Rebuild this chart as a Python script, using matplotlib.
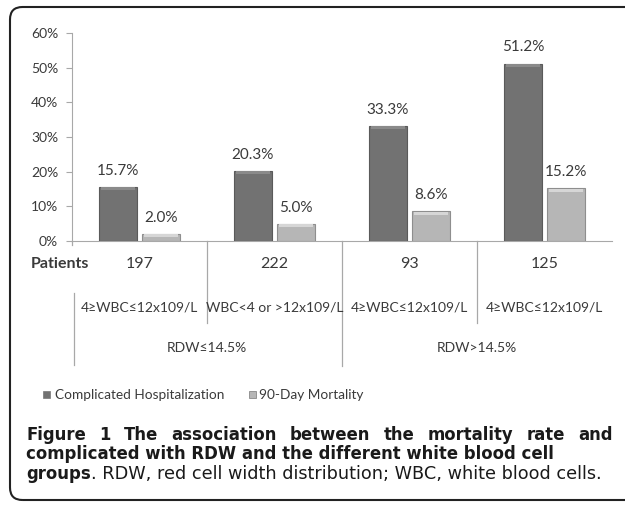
import matplotlib
matplotlib.use("Agg")
import matplotlib.pyplot as plt
from matplotlib.patches import FancyBboxPatch
import numpy as np

groups = ["4≥WBC≤12x109/L", "WBC<4 or >12x109/L", "4≥WBC≤12x109/L", "4≥WBC≤12x109/L"]
patients = ["197", "222", "93", "125"]
rdw_labels = ["RDW≤14.5%", "RDW>14.5%"]
complicated = [15.7, 20.3, 33.3, 51.2]
mortality = [2.0, 5.0, 8.6, 15.2]
series_names = ["Complicated Hospitalization", "90-Day Mortality"]
yticks = [0, 10, 20, 30, 40, 50, 60]
caption1 = "Figure 1 The association between the mortality rate and"
caption2 = "complicated with RDW and the different white blood cell"
caption3b = "groups"
caption3r = ". RDW, red cell width distribution; WBC, white blood cells."

W, H = 625, 507
fig = plt.figure(figsize=(W / 100, H / 100), dpi=100)
fig.patch.set_facecolor("white")

FONT = ["Lato", "DejaVu Sans"]
TXT = "#3a3a3a"
AX = "#a8a8a8"

def fx(px):
    return px / W

def fy(py):
    return 1 - py / H

ax_l, ax_r, ax_t, ax_b = 72, 612, 33, 241
ax = fig.add_axes([fx(ax_l), fy(ax_b), fx(ax_r - ax_l), (ax_b - ax_t) / H])
ax.set_xlim(-0.5, 3.5)
ax.set_ylim(0, 60)

x = np.arange(len(groups))
bw = 0.28
off = 0.16
dark = ax.bar(x - off, complicated, bw, color="#727272", edgecolor="#5a5a5a", linewidth=0.8, zorder=3)
light = ax.bar(x + off, mortality, bw, color="#b6b6b6", edgecolor="#8e8e8e", linewidth=0.8, zorder=3)

for bars, hl in ((dark, "#8a8a8a"), (light, "#d6d6d6")):
    for b in bars:
        h = b.get_height()
        ax.bar(b.get_x() + b.get_width() / 2, min(0.9, h * 0.35), b.get_width() * 0.9,
               bottom=h - min(1.0, h * 0.4), color=hl, linewidth=0, zorder=4)

for xs, vals in ((x - off, complicated), (x + off, mortality)):
    for xi, v in zip(xs, vals):
        ax.text(xi, v + 2.6, f"{v:.1f}%", ha="center", va="bottom", fontsize=11, color=TXT, family=FONT)

for s in ["top", "right"]:
    ax.spines[s].set_visible(False)
ax.spines["left"].set_color(AX)
ax.spines["bottom"].set_color(AX)
ax.set_yticks(yticks)
ax.set_yticklabels([f"{t}%" for t in yticks], fontsize=10, color=TXT, family=FONT)
ax.tick_params(axis="y", length=4, color=AX, pad=6)
ax.set_xticks([])

def ay(py):
    return (ax_b - py) / (ax_b - ax_t)

tr = ax.get_xaxis_transform()
for xd in (0.5, 2.5):
    ax.plot([xd, xd], [0, ay(323)], transform=tr, color=AX, lw=0.9, clip_on=False)
ax.plot([1.5, 1.5], [0, ay(366)], transform=tr, color=AX, lw=0.9, clip_on=False)
ax.plot([-0.485, -0.485], [ay(293), ay(365)], transform=tr, color=AX, lw=0.9, clip_on=False)
ax.plot([-0.5, -0.5], [0, ay(245)], transform=tr, color=AX, lw=0.9, clip_on=False)

fig.text(fx(89), fy(264), "Patients", ha="right", va="center", fontsize=11.5,
         fontweight="bold", color=TXT, family=FONT)
for xi, p in zip(x, patients):
    ax.text(xi, ay(264), p, transform=tr, ha="center", va="center", fontsize=11.5, color=TXT, family=FONT)
for xi, g in zip(x, groups):
    ax.text(xi, ay(307), g, transform=tr, ha="center", va="center", fontsize=10, color=TXT, family=FONT)
for xi, r in zip((0.5, 2.5), rdw_labels):
    ax.text(xi, ay(348), r, transform=tr, ha="center", va="center", fontsize=10, color=TXT, family=FONT)

for (sx, tx, col, name) in ((43, 55, "#727272", series_names[0]), (249, 259, "#b6b6b6", series_names[1])):
    fig.patches.append(FancyBboxPatch((fx(sx), fy(398)), fx(7), 7 / H, boxstyle="square,pad=0",
                                      facecolor=col, edgecolor="#777777", lw=0.5,
                                      transform=fig.transFigure))
    fig.text(fx(tx), fy(395), name, ha="left", va="center", fontsize=9.8, color=TXT, family=FONT)

fig.patches.append(FancyBboxPatch((fx(10), fy(500)), fx(640), (500 - 7) / H,
                                  boxstyle="round,pad=0,rounding_size=0.02",
                                  facecolor="none", edgecolor="#222222", lw=1.5,
                                  transform=fig.transFigure, mutation_aspect=W / H))

# caption, fitted to the reference widths
CAP = ["DejaVu Sans"]
CC = "#1a1a1a"
renderer = fig.canvas.get_renderer()

def width_px(s, size, weight):
    t = fig.text(0, 0, s, fontsize=size, fontweight=weight, family=CAP)
    w = t.get_window_extent(renderer=renderer).width
    t.remove()
    return w

base = 11.0
left = 26
bs = base * (552 - left) / width_px(caption2, base, "bold")
rs = base * (600 - left - width_px(caption3b, bs, "bold")) / width_px(caption3r, base, "normal")

words = caption1.split(" ")
ww = [width_px(w, bs, "bold") for w in words]
gap = (613 - left - sum(ww)) / (len(words) - 1)
xp = left
for w, wpx in zip(words, ww):
    fig.text(fx(xp), fy(440), w, ha="left", va="baseline", fontsize=bs, fontweight="bold", color=CC, family=CAP)
    xp += wpx + gap
fig.text(fx(left), fy(459), caption2, ha="left", va="baseline", fontsize=bs, fontweight="bold", color=CC, family=CAP)
t1 = fig.text(fx(left), fy(479), caption3b, ha="left", va="baseline", fontsize=bs, fontweight="bold",
              color=CC, family=CAP)
bb = t1.get_window_extent(renderer=renderer)
fig.text(bb.x1 / W, fy(479), caption3r, ha="left", va="baseline", fontsize=rs, color=CC, family=CAP)

fig.savefig("out.png", dpi=100, facecolor="white")
